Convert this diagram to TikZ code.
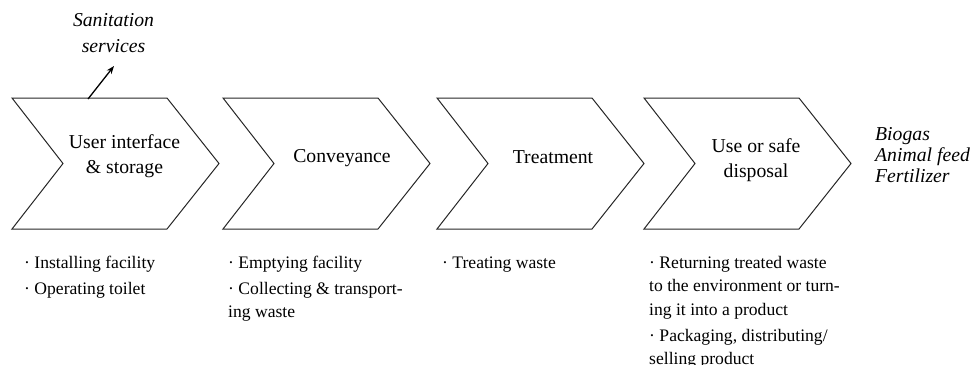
\documentclass[tikz,border=0pt]{standalone}
\usepackage{fontspec}
\setmainfont{Liberation Serif}
\usetikzlibrary{arrows.meta}
\begin{document}
\begin{tikzpicture}[x=1pt,y=-1pt,
  chev/.style={draw=black!85,line width=1pt,line join=miter},
  stagetext/.style={align=center,inner sep=0pt,font=\fontsize{19.7}{25}\selectfont},
  itext/.style={align=left,inner sep=0pt,font=\fontsize{19.7}{21}\selectfont\itshape},
  ctext/.style={align=center,inner sep=0pt,font=\fontsize{19.7}{25}\selectfont\itshape},
  listtext/.style={align=left,inner sep=0pt,anchor=base west,font=\fontsize{17.6}{23.5}\selectfont},
  arr/.style={-{Stealth[length=8pt,width=6pt]},line width=1.3pt}]
\useasboundingbox (0,0) rectangle (974,364);
% chevrons
\foreach \L in {12,223,437,644}{
  \draw[chev] (\L,98) -- ++(155,0) -- ++(52,65.5) -- ++(-52,65.5) -- ++(-155,0) -- ++(51,-65.5) -- cycle;
}
% stage labels (anchor base = last line)
\node[stagetext,anchor=base] (s1) at (124.5,173) {User interface\\\& storage};
\node[stagetext,anchor=base] (s2) at (342,162) {Conveyance};
\node[stagetext,anchor=base] (s3) at (553,163) {Treatment};
\node[stagetext,anchor=base] (s4) at (756,177) {Use or safe\\disposal};
% input / output
\node[ctext,anchor=base] (san) at (113.5,52) {Sanitation\\services};
\coordinate (astart) at (88,99);
\coordinate (aend) at (114,66);
\draw[arr] (astart) -- (aend);
\node[itext,anchor=base west] (out) at (875,182) {Biogas\\Animal feed\\Fertilizer};
% lists
\node[listtext] (l1) at (24,294) {·~Installing facility\\[2.5pt]·~Operating toilet};
\node[listtext] (l2) at (228,317.5) {·~Emptying facility\\[2.5pt]·~Collecting \& transport-\\ing waste};
\node[listtext] (l3) at (442,268) {·~Treating waste};
\node[listtext] (l4) at (649,364.5) {·~Returning treated waste\\to the environment or turn-\\ing it into a product\\[2.5pt]·~Packaging, distributing/\\selling product};
\end{tikzpicture}
\end{document}
